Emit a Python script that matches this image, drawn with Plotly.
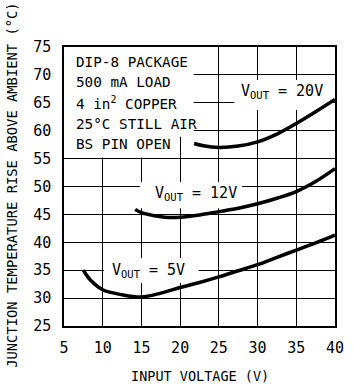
import plotly.graph_objects as go

# Data
x_5v = [7.5, 8.5, 10, 12.5, 15, 17.5, 20, 22.5, 25, 27.5, 30, 32.5, 35, 37.5, 40]
y_5v = [35.0, 33.1, 31.5, 30.6, 30.2, 30.9, 31.9, 32.8, 33.8, 34.9, 36.0, 37.3, 38.6, 39.9, 41.3]

x_12v = [14.2, 15, 16.5, 18, 20, 22.5, 25, 27.5, 30, 32.5, 35, 37.5, 40]
y_12v = [45.9, 45.3, 44.8, 44.5, 44.5, 44.9, 45.5, 46.1, 46.9, 47.9, 49.1, 50.9, 53.2]

x_20v = [21.8, 23, 25, 27.5, 30, 32.5, 35, 37.5, 40]
y_20v = [57.7, 57.3, 57.0, 57.25, 58.0, 59.4, 61.3, 63.4, 65.6]

x_ticks = [5, 10, 15, 20, 25, 30, 35, 40]
y_ticks = [25, 30, 35, 40, 45, 50, 55, 60, 65, 70, 75]

note_lines = ["DIP-8 PACKAGE", "500 mA LOAD", "4 in<sup>2</sup> COPPER",
              "25°C STILL AIR", "BS PIN OPEN"]
note_y = [72.3, 68.64, 64.96, 61.29, 57.62]

FONT = "DejaVu Sans Mono, Liberation Mono, monospace"

fig = go.Figure()
for xs, ys in [(x_5v, y_5v), (x_12v, y_12v), (x_20v, y_20v)]:
    fig.add_trace(go.Scatter(x=xs, y=ys, mode="lines",
                             line=dict(color="black", width=3.5, shape="spline"),
                             showlegend=False, hoverinfo="skip"))

# white boxes that interrupt the grid behind text
boxes = [
    (5, 21.75, 58.9, 75),
    (5, 19.8, 55.2, 58.9),
    (27.0, 39.5, 63.7, 69.1),
    (14.8, 28.0, 46.1, 50.8),
    (10.15, 22.4, 32.7, 37.2),
]
for x0, x1, y0, y1 in boxes:
    fig.add_shape(type="rect", xref="x", yref="y", x0=x0, x1=x1, y0=y0, y1=y1,
                  fillcolor="white", line=dict(width=0), layer="between")

for t, yy in zip(note_lines, note_y):
    fig.add_annotation(x=6.25, y=yy, xref="x", yref="y", text=t, showarrow=False,
                       xanchor="left", yanchor="middle",
                       font=dict(family=FONT, size=14.3, color="black"))

labels = [("V<sub>OUT</sub> = 20V", 33.2, 67.1),
          ("V<sub>OUT</sub> = 12V", 22.06, 48.8),
          ("V<sub>OUT</sub> = 5V", 15.94, 34.9)]
for t, xx, yy in labels:
    fig.add_annotation(x=xx, y=yy, xref="x", yref="y", text=t, showarrow=False,
                       xanchor="center", yanchor="middle",
                       font=dict(family=FONT, size=15, color="black"))

fig.add_annotation(x=0.5, y=-0.178, xref="paper", yref="paper",
                   text="INPUT VOLTAGE (V)", showarrow=False,
                   xanchor="center", yanchor="middle",
                   font=dict(family=FONT, size=13.5, color="black"))
fig.add_annotation(x=-0.193, y=0.505, xref="paper", yref="paper",
                   text="JUNCTION TEMPERATURE RISE ABOVE AMBIENT (°C)", showarrow=False,
                   textangle=-90, xanchor="center", yanchor="middle",
                   font=dict(family=FONT, size=13.8, color="black"))

axis_common = dict(showgrid=True, gridcolor="black", gridwidth=1,
                   showline=True, linecolor="black", linewidth=1.5, mirror=True,
                   zeroline=False, ticks="",
                   tickfont=dict(family=FONT, size=15, color="black"))
fig.update_xaxes(range=[5, 40], tickvals=x_ticks, ticktext=[str(v) for v in x_ticks],
                 ticklabelstandoff=7, **axis_common)
fig.update_yaxes(range=[25, 75], tickvals=y_ticks, ticktext=[str(v) for v in y_ticks],
                 ticklabelstandoff=8, **axis_common)

fig.update_layout(width=353, height=384,
                  margin=dict(l=64, r=9, t=47, b=58),
                  paper_bgcolor="white", plot_bgcolor="white",
                  font=dict(family=FONT, color="black"))

fig.write_html("out.html")
